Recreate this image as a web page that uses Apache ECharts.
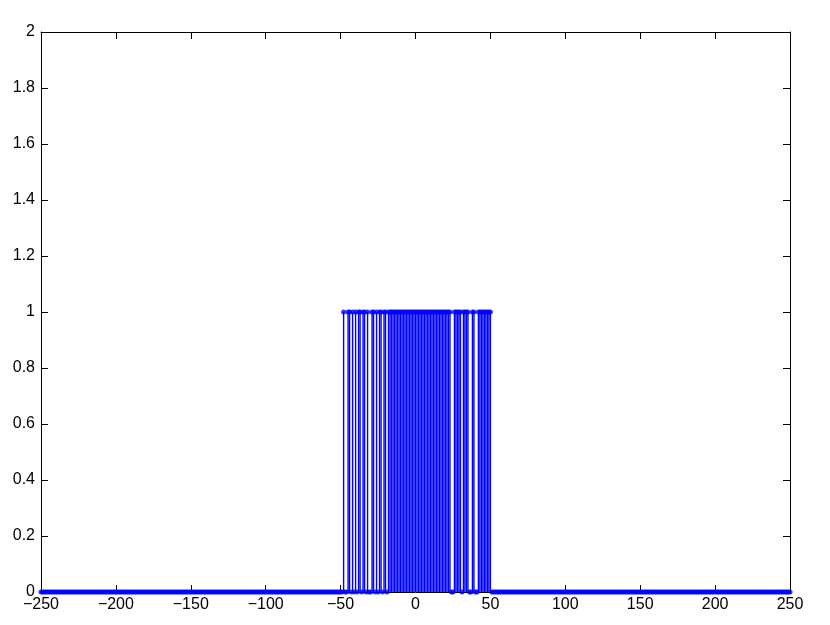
<!DOCTYPE html>
<html>
<head>
<meta charset="utf-8">
<script src="https://cdn.jsdelivr.net/npm/echarts@6/dist/echarts.min.js"></script>
<style>
  html, body { margin: 0; padding: 0; background: #fff; }
  #chart { width: 830px; height: 625px; }
</style>
</head>
<body>
<div id="chart"></div>
<script>
// sample positions n = -250..250, signal is 1 on [pulseStart, pulseEnd] except at zeroAt
const nMin = -250
const nMax = 250
const pulseStart = -48
const pulseEnd = 50
const zeroAt = [-47, -46, -43, -41, -39, -36, -33, -31, -30, -27, -25, -22, -19,
  24, 25, 31, 36, 37, 40, 41]
const xTicks = [-250, -200, -150, -100, -50, 0, 50, 100, 150, 200, 250]
const yTicks = [0, 0.2, 0.4, 0.6, 0.8, 1, 1.2, 1.4, 1.6, 1.8, 2]

const points = []
for (let n = nMin; n <= nMax; n++) {
  const on = n >= pulseStart && n <= pulseEnd && zeroAt.indexOf(n) < 0
  points.push([n, on ? 1 : 0])
}
const stems = points.filter(p => p[1] !== 0)

const blue = '#0000ff'
const fmtX = v => (v < 0 ? '\u2212' + Math.abs(v) : String(v))

const chart = echarts.init(document.getElementById('chart'))
const axisLine = { show: true, onZero: false, lineStyle: { color: '#000', width: 1 } }
const tick = { show: true, inside: true, length: 7, lineStyle: { color: '#000' } }
const label = { color: '#000', fontSize: 16, fontFamily: 'Liberation Sans' }

chart.setOption({
  animation: false,
  grid: { left: 41, right: 40, top: 32, bottom: 33 },
  xAxis: [
    {
      type: 'value', min: nMin, max: nMax, interval: 50,
      axisLine: axisLine, axisTick: tick, splitLine: { show: false },
      axisLabel: Object.assign({}, label, { margin: 5, formatter: fmtX })
    },
    {
      type: 'value', position: 'top', min: nMin, max: nMax, interval: 50,
      axisLine: axisLine, axisTick: tick, splitLine: { show: false },
      axisLabel: { show: false }
    }
  ],
  yAxis: [
    {
      type: 'value', min: 0, max: 2, interval: 0.2,
      axisLine: axisLine, axisTick: tick, splitLine: { show: false },
      axisLabel: Object.assign({}, label, { margin: 6, formatter: v => String(+v.toFixed(1)) })
    },
    {
      type: 'value', position: 'right', min: 0, max: 2, interval: 0.2,
      axisLine: axisLine, axisTick: tick, splitLine: { show: false },
      axisLabel: { show: false }
    }
  ],
  series: [
    {
      type: 'bar',
      data: stems,
      barWidth: 1.4,
      itemStyle: { color: blue }
    },
    {
      type: 'scatter',
      data: points,
      symbol: 'circle',
      symbolSize: 5,
      itemStyle: { color: blue }
    }
  ]
})
</script>
</body>
</html>
